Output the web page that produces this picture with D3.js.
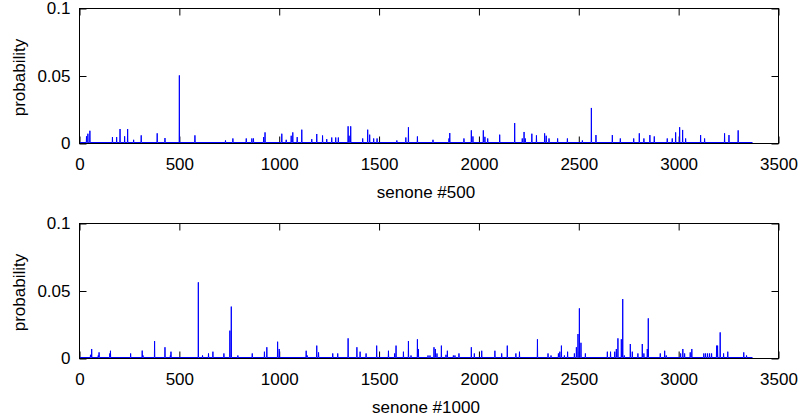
<!DOCTYPE html>
<html>
<head>
<meta charset="utf-8">
<script src="https://cdn.jsdelivr.net/npm/d3@7"></script>
<style>
  body { margin: 0; background: #fff; }
  svg text { font-family: "Liberation Sans", Arial, sans-serif; fill: #000; }
</style>
</head>
<body>
<div id="chart"></div>
<script>
// number of senones in the plotted vector
var senoneCount = 3370;

var xTicks = [0, 500, 1000, 1500, 2000, 2500, 3000, 3500];
var yTicks = [0, 0.05, 0.1];

// senone #500 : spikes (index, probability), rest of the vector ~0
var s500Index = [35, 42, 52, 165, 186, 203, 226, 241, 271, 309, 389, 428, 500, 578, 731, 768, 835, 863, 871, 922,
  929, 1013, 1035, 1060, 1068, 1090, 1113, 1163, 1188, 1217, 1238, 1263, 1283, 1296, 1345, 1350, 1358, 1418, 1443, 1453,
  1473, 1490, 1589, 1634, 1647, 1692, 1770, 1850, 1854, 1925, 1962, 1970, 2022, 2030, 2044, 2104, 2179, 2217, 2226, 2232,
  2265, 2288, 2329, 2337, 2351, 2394, 2443, 2518, 2563, 2586, 2668, 2708, 2775, 2803, 2826, 2856, 2878, 2943, 2968, 2985,
  3005, 3020, 3035, 3110, 3130, 3230, 3252, 3298];
var s500Prob = [0.0046, 0.0065, 0.0087, 0.004, 0.004, 0.01, 0.0046, 0.01, 0.002, 0.0053, 0.0068, 0.0033, 0.0497, 0.0053, 0.0015, 0.003, 0.003, 0.003, 0.003, 0.004,
  0.0075, 0.0065, 0.002, 0.005, 0.0075, 0.004, 0.0095, 0.0025, 0.0063, 0.0052, 0.0025, 0.0037, 0.0037, 0.0037, 0.012, 0.005, 0.012, 0.003, 0.0095, 0.0058,
  0.003, 0.003, 0.0015, 0.0037, 0.0113, 0.0045, 0.002, 0.003, 0.007, 0.003, 0.009, 0.0045, 0.009, 0.0042, 0.003, 0.0058, 0.0144, 0.003, 0.0078, 0.003,
  0.0065, 0.0053, 0.0068, 0.005, 0.003, 0.003, 0.003, 0.0015, 0.0256, 0.0055, 0.0055, 0.003, 0.003, 0.0068, 0.003, 0.0055, 0.0045, 0.003, 0.003, 0.0075,
  0.0113, 0.0093, 0.003, 0.0055, 0.003, 0.0068, 0.0055, 0.009];

// senone #1000
var s1000Index = [55, 61, 94, 98, 152, 155, 256, 314, 318, 376, 428, 455, 458, 595, 616, 646, 668, 723, 753, 760,
  793, 865, 926, 938, 992, 1000, 1135, 1140, 1188, 1197, 1268, 1293, 1345, 1389, 1405, 1435, 1488, 1547, 1578, 1585,
  1622, 1647, 1660, 1692, 1697, 1745, 1755, 1775, 1782, 1790, 1812, 1835, 1842, 1872, 1880, 1900, 1962, 1977, 2014, 2080,
  2114, 2142, 2185, 2203, 2293, 2346, 2361, 2398, 2405, 2413, 2428, 2444, 2478, 2488, 2496, 2503, 2511, 2533, 2643, 2659,
  2680, 2688, 2696, 2713, 2720, 2728, 2758, 2768, 2796, 2818, 2826, 2843, 2848, 2908, 2930, 2938, 3010, 3021, 3030, 3058,
  3066, 3126, 3135, 3145, 3155, 3165, 3190, 3195, 3208, 3225, 3246, 3326, 3340];
var s1000Prob = [0.002, 0.0063, 0.0015, 0.0038, 0.003, 0.005, 0.003, 0.0051, 0.0015, 0.0122, 0.0076, 0.0015, 0.0043, 0.0557, 0.0015, 0.003, 0.0043, 0.003, 0.0199, 0.0377,
  0.0015, 0.003, 0.0043, 0.0076, 0.0117, 0.0063, 0.005, 0.0015, 0.0088, 0.0038, 0.003, 0.003, 0.0142, 0.0076, 0.0043, 0.003, 0.0088, 0.005, 0.003, 0.0088,
  0.0043, 0.0122, 0.0015, 0.0135, 0.0063, 0.0015, 0.0015, 0.0076, 0.0063, 0.003, 0.0088, 0.002, 0.005, 0.0015, 0.0015, 0.003, 0.0076, 0.003, 0.005, 0.005,
  0.003, 0.0088, 0.003, 0.0043, 0.0135, 0.003, 0.0015, 0.003, 0.0043, 0.0088, 0.0015, 0.0043, 0.003, 0.0076, 0.0174, 0.0364, 0.0109, 0.003, 0.0043, 0.0043,
  0.0043, 0.0063, 0.0142, 0.0135, 0.0433, 0.0015, 0.01, 0.0043, 0.003, 0.01, 0.003, 0.0063, 0.029, 0.003, 0.005, 0.0015, 0.003, 0.0063, 0.003, 0.0038,
  0.0063, 0.003, 0.003, 0.003, 0.003, 0.003, 0.0088, 0.0088, 0.0186, 0.003, 0.0043, 0.0038, 0.0015];

var panels = [
  { label: "senone #500", index: s500Index, prob: s500Prob, top: 8, bottom: 143 },
  { label: "senone #1000", index: s1000Index, prob: s1000Prob, top: 223, bottom: 358 }
];

var W = 801, H = 416;
var svg = d3.select("#chart").append("svg")
  .attr("width", W)
  .attr("height", H);
svg.append("rect").attr("width", W).attr("height", H).attr("fill", "#fff");

var x = d3.scaleLinear().domain([0, 3500]).range([79.5, 778.5]);

panels.forEach(function (p) {
  var y = d3.scaleLinear().domain([0, 0.1]).range([p.bottom + 0.5, p.top + 0.5]);
  var g = svg.append("g");

  // build the vector as a line: zero baseline with a spike at each index
  var pts = [[1, 0]];
  p.index.forEach(function (d, i) {
    pts.push([d - 1, 0], [d, p.prob[i]], [d + 1, 0]);
  });
  pts.push([senoneCount, 0]);

  // axes, ticks pointing inwards (matlab style)
  g.append("g")
    .attr("transform", `translate(0,${p.bottom + 0.5})`)
    .call(d3.axisBottom(x).tickValues(xTicks).tickFormat(d3.format("d"))
      .tickSizeInner(-7).tickSizeOuter(0).tickPadding(14))
    .call(a => a.select(".domain").remove());
  g.append("g")
    .attr("transform", `translate(0,${p.top + 0.5})`)
    .call(d3.axisTop(x).tickValues(xTicks).tickFormat("")
      .tickSizeInner(-7).tickSizeOuter(0))
    .call(a => a.select(".domain").remove());
  g.append("g")
    .attr("transform", `translate(79.5,0)`)
    .call(d3.axisLeft(y).tickValues(yTicks).tickFormat(d => d === 0 ? "0" : String(d))
      .tickSizeInner(-7).tickSizeOuter(0).tickPadding(9))
    .call(a => a.select(".domain").remove());
  g.append("g")
    .attr("transform", `translate(778.5,0)`)
    .call(d3.axisRight(y).tickValues(yTicks).tickFormat("")
      .tickSizeInner(-7).tickSizeOuter(0))
    .call(a => a.select(".domain").remove());

  g.selectAll(".tick line").attr("stroke", "#000");
  g.selectAll(".tick text").attr("font-size", 17).attr("font-family", "Liberation Sans");

  // data
  g.append("path")
    .datum(pts)
    .attr("fill", "none")
    .attr("stroke", "#0000ff")
    .attr("stroke-width", 1)
    .attr("d", d3.line()
      .x(function (d) { return x(d[0]); })
      .y(function (d) { return y(d[1]) - 1; }));

  // box
  g.append("rect")
    .attr("x", 79.5).attr("y", p.top + 0.5)
    .attr("width", 699).attr("height", p.bottom - p.top)
    .attr("fill", "none").attr("stroke", "#000").attr("stroke-width", 1);

  // labels
  g.append("text")
    .attr("x", 426).attr("y", p.bottom + 55)
    .attr("text-anchor", "middle")
    .attr("font-size", 17)
    .text(p.label);
  g.append("text")
    .attr("transform", `translate(25,${(p.top + p.bottom) / 2 + 2}) rotate(-90)`)
    .attr("text-anchor", "middle")
    .attr("font-size", 17)
    .text("probability");
});
</script>
</body>
</html>
